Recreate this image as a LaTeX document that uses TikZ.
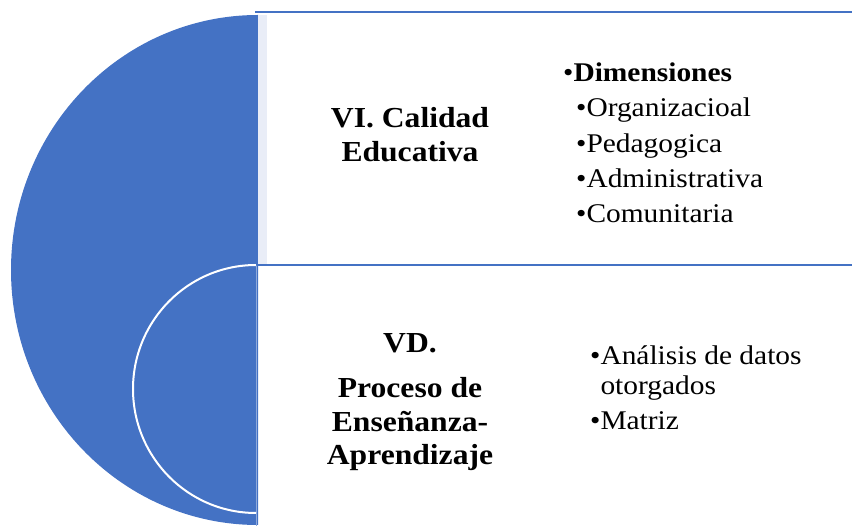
\documentclass[tikz,border=0pt]{standalone}
\usepackage{fontspec}
\setmainfont{Liberation Serif}[FakeStretch=1.09]
\definecolor{ofblue}{HTML}{4472C4}
\definecolor{ofband}{HTML}{E9EDF7}
\begin{document}
\begin{tikzpicture}[
        x=1pt, y=-1pt, % coordenadas en px, y hacia abajo
        titulo/.style = {font=\fontsize{29}{34}\selectfont\bfseries, align=center, inner sep=0pt, anchor=base},
        item/.style = {font=\fontsize{27}{30}\selectfont, align=left, inner sep=0pt, anchor=base west},
        borde/.style = {draw=ofblue, line width=2pt}, % Linea de los cuadros
    ]
    \useasboundingbox (0,0) rectangle (852,526);

    \fill[ofblue] (258,15) arc[start angle=270, end angle=90, x radius=247, y radius=255];
    \fill[ofband] (258,15) rectangle (267,264);
    \draw[borde] (255,12.5) -- (852,12.5);
    \draw[borde] (255,265) -- (852,265);
    \draw[ofblue!60!white, line width=1pt] (256,266) -- (256,526);
    \draw[white, line width=2pt] (256,265) arc[start angle=270, end angle=90, x radius=123, y radius=124];

    % base = ultima linea del nodo
    \node[titulo] (vi) at (410,162) {VI. Calidad\\Educativa};
    \node[item] (dim) at (563,82) {•\textbf{Dimensiones}};
    \foreach \txt/\y [count=\i] in {Organizacioal/117, Pedagogica/152.5, Administrativa/188, Comunitaria/223}
        \node[item] (dim\i) at (576,\y) {•\txt};

    \node[titulo] (vd) at (410,353) {VD.};
    \node[titulo, font=\fontsize{29}{33.5}\selectfont\bfseries] (proceso) at (410,465) {Proceso de\\Enseñanza-\\Aprendizaje};
    \node[item] (analisis) at (590,395) {•Análisis de datos\\\phantom{•}otorgados};
    \node[item] (matriz) at (590,430) {•Matriz};

\end{tikzpicture}
\end{document}
